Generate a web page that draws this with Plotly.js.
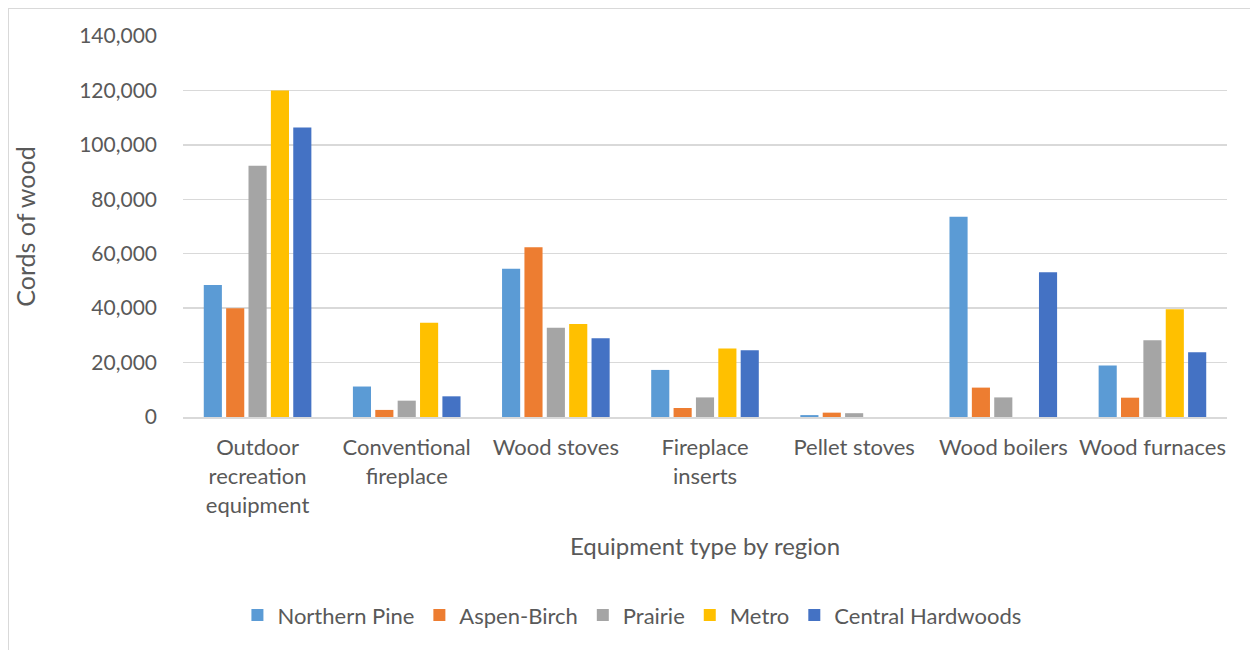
<!DOCTYPE html>
<html><head><meta charset="utf-8">
<script src="https://cdn.plot.ly/plotly-3.0.1.min.js"></script>
<style>
html,body{margin:0;padding:0;background:#fff;overflow:hidden;}
#frame{position:absolute;left:8px;top:8px;width:1250px;height:650px;border:1px solid #d9d9d9;box-sizing:border-box;}
#chart{position:absolute;left:0;top:0;width:1250px;height:650px;}
</style>
</head><body>
<div id="frame"></div>
<div id="chart"></div>
<script>
const categories = ["Outdoor<br>recreation<br>equipment","Conventional<br>fireplace","Wood stoves","Fireplace<br>inserts","Pellet stoves","Wood boilers","Wood furnaces"];
const northernPine = [48500, 11200, 54500, 17300, 700, 73600, 18900];
const aspenBirch = [40000, 2600, 62400, 3300, 1600, 10800, 7100];
const prairie = [92300, 6000, 32800, 7200, 1400, 7200, 28200];
const metro = [120000, 34600, 34200, 25200, 0, 0, 39600];
const centralHardwoods = [106400, 7600, 28900, 24500, 0, 53200, 23800];
const seriesNames = ["Northern Pine","Aspen-Birch","Prairie","Metro","Central Hardwoods"];
const seriesColors = ["#5b9bd5","#ed7d31","#a5a5a5","#ffc000","#4472c4"];
const seriesValues = [northernPine, aspenBirch, prairie, metro, centralHardwoods];

const traces = seriesValues.map((v,i)=>({
  type:'bar', x:categories, y:v, name:seriesNames[i],
  marker:{color:seriesColors[i], line:{width:0}}
}));

const font = "Lato, 'Open Sans', sans-serif";
const layout = {
  width:1250, height:650,
  paper_bgcolor:'rgba(0,0,0,0)', plot_bgcolor:'rgba(0,0,0,0)',
  margin:{l:183, r:23, t:36, b:233},
  barmode:'group', bargap:0.25, bargroupgap:0.19,
  font:{family:font, color:'#595959', size:20},
  xaxis:{
    showgrid:false, showline:true, linecolor:'#d9d9d9', linewidth:2,
    ticks:'', tickfont:{size:22, color:'#595959'}, ticklabelstandoff:10,
    title:{text:'Equipment type by region', font:{size:24, color:'#595959'}, standoff:22}
  },
  yaxis:{
    range:[0,140000], tickvals:[0,20000,40000,60000,80000,100000,120000,140000],
    tickformat:',d', showgrid:true, gridcolor:'#d9d9d9', gridwidth:1.5,
    zeroline:false, showline:false, ticks:'', ticklabelstandoff:25,
    tickfont:{size:21, color:'#595959'},
    title:{text:'Cords of wood', font:{size:25, color:'#595959'}, standoff:36}
  },
  legend:{orientation:'h', x:0.43, xanchor:'center', y:-0.52, yanchor:'middle',
    font:{size:22, color:'#595959'}, itemwidth:30, traceorder:'normal'},
  showlegend:true
};
Plotly.newPlot('chart', traces, layout, {displayModeBar:false, staticPlot:true});
</script>
</body></html>
